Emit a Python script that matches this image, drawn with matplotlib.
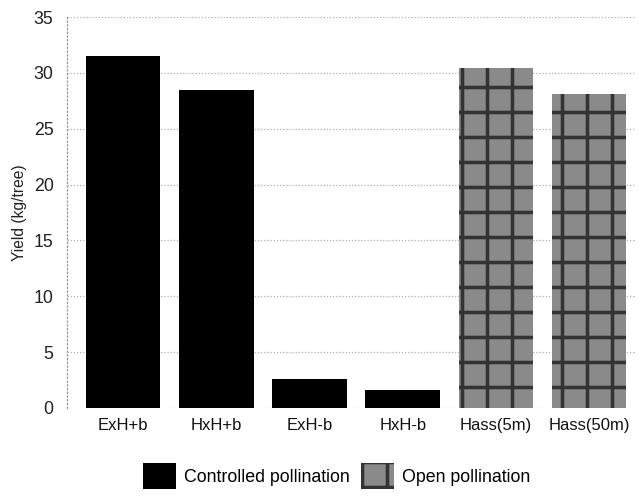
import matplotlib
matplotlib.use("Agg")
import matplotlib.pyplot as plt
from matplotlib.patches import Patch

categories = ["ExH+b", "HxH+b", "ExH-b", "HxH-b", "Hass(5m)", "Hass(50m)"]
yields = [31.5, 28.5, 2.6, 1.6, 30.4, 28.1]
open_pollinated = [False, False, False, False, True, True]
legend_labels = ["Controlled pollination", "Open pollination"]

plt.rcParams["font.family"] = ["Liberation Sans", "DejaVu Sans"]
plt.rcParams["hatch.linewidth"] = 1.7
plt.rcParams["hatch.color"] = "#333333"

fig = plt.figure(figsize=(639 / 150, 500 / 150), dpi=150)
ax = fig.add_axes([0.105, 0.184, 0.89, 0.782])

x = range(len(categories))
for i, (v, op) in enumerate(zip(yields, open_pollinated)):
    if op:
        ax.bar(i, v, width=0.8, color="#8a8a8a", hatch="+", edgecolor="#333333",
               linewidth=0, zorder=3)
    else:
        ax.bar(i, v, width=0.8, color="black", linewidth=0, zorder=3)

ax.set_xlim(-0.6, 5.5)
ax.set_ylim(0, 35)
ax.set_yticks(range(0, 36, 5))
ax.set_xticks(list(x))
ax.set_xticklabels(categories, fontsize=8)
ax.tick_params(axis="y", labelsize=8.5, length=0, pad=6.5, labelcolor="#222222")
ax.tick_params(axis="x", length=0, pad=5, labelcolor="#111111")
ax.yaxis.grid(True, linestyle=(0, (1, 1.5)), color="#b0b0b0", linewidth=0.6, zorder=0)
ax.set_axisbelow(True)
for s in ["top", "right", "bottom"]:
    ax.spines[s].set_visible(False)
ax.spines["left"].set_linestyle((0, (1, 2)))
ax.spines["left"].set_color("#999999")
ax.spines["left"].set_linewidth(0.6)
ax.set_ylabel("Yield (kg/tree)", fontsize=7.5, labelpad=3, color="#222222")

handles = [Patch(facecolor="black", linewidth=0),
           Patch(facecolor="#8a8a8a", hatch="+", edgecolor="#333333", linewidth=0)]
fig.legend(handles, legend_labels, loc="center", bbox_to_anchor=(0.527, 0.048),
           ncol=2, frameon=False, fontsize=8.5, handlelength=1.9, handleheight=1.9,
           handletextpad=0.45, columnspacing=0.6)

fig.savefig("out.png", dpi=150, facecolor="white")
